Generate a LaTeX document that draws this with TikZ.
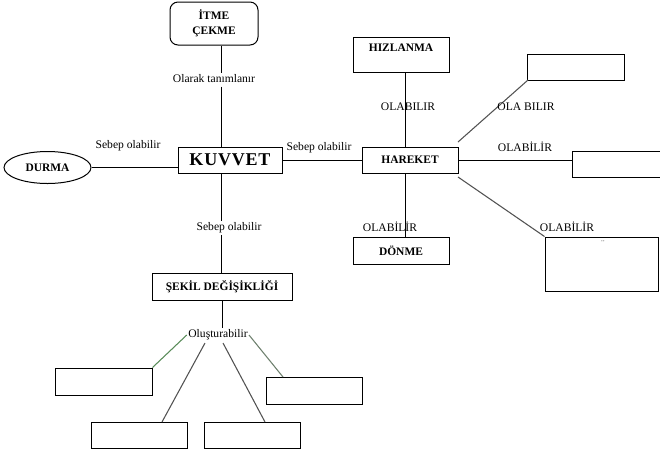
\documentclass[tikz,border=0pt]{standalone}
\usepackage{fontspec}
\setmainfont{Liberation Serif}
\usetikzlibrary{shapes.geometric}
\begin{document}
\begin{tikzpicture}[x=0.75pt,y=-0.75pt,
  box/.style={draw,line width=0.75pt,inner sep=0pt,font=\fontsize{8.6}{10}\selectfont\bfseries},
  lbl/.style={inner sep=1pt,font=\fontsize{8.7}{10}\selectfont},
  ln/.style={line width=0.75pt},
  dg/.style={line width=0.8pt,draw=black!68},
  gr/.style={line width=0.8pt,draw={rgb,255:red,90;green,140;blue,90}},
  gg/.style={line width=0.8pt,draw={rgb,255:red,110;green,128;blue,110}}]
\useasboundingbox (0,0) rectangle (660,455);
% boxes
\node[box,rounded corners=6pt,minimum width=88*0.75pt,minimum height=43*0.75pt,align=center] (itme) at (214,23.5) {İTME\\[1pt]ÇEKME};
\node[box,minimum width=104*0.75pt,minimum height=26*0.75pt,font=\fontsize{13.5}{15}\selectfont\bfseries] (kuvvet) at (230,160) {K\kern0.6pt U\kern0.6pt V\kern0.6pt V\kern0.6pt E\kern0.6pt T};
\node[box,ellipse,minimum width=87*0.75pt,minimum height=32*0.75pt] (durma) at (47.5,167.5) {DURMA};
\node[box,minimum width=96*0.75pt,minimum height=26*0.75pt] (hareket) at (410,160) {HAREKET};
\node[box,minimum width=96*0.75pt,minimum height=35*0.75pt] (hizlanma) at (401,54.5) {};
\node[inner sep=0pt,font=\fontsize{8.6}{10}\selectfont\bfseries] (hiztext) at (401,48) {HIZLANMA};
\node[box,minimum width=96*0.75pt,minimum height=27*0.75pt] (donme) at (401,250.5) {DÖNME};
\node[box,minimum width=97*0.75pt,minimum height=26*0.75pt] (tr) at (575.5,67) {};
\node[box,minimum width=100*0.75pt,minimum height=26*0.75pt] (rb) at (622,164) {};
\node[box,minimum width=113*0.75pt,minimum height=54*0.75pt] (br) at (601.5,264) {};
\node[inner sep=0pt,font=\fontsize{8}{9}\selectfont,text=black!55] (dots) at (603,244) {¨};
\node[box,minimum width=140*0.75pt,minimum height=27*0.75pt] (sekil) at (222,286.5) {ŞEKİL DEĞİŞİKLİĞİ};
\node[box,minimum width=97*0.75pt,minimum height=27*0.75pt] (b1) at (103.5,381.5) {};
\node[box,minimum width=96*0.75pt,minimum height=26*0.75pt] (b2) at (139,435) {};
\node[box,minimum width=96*0.75pt,minimum height=26*0.75pt] (b3) at (252,435) {};
\node[box,minimum width=96*0.75pt,minimum height=27*0.75pt] (b4) at (314,390.5) {};
% labels
\node[lbl] (tanim) at (214,79) {Olarak tanımlanır};
\node[lbl] (sebep1) at (128,146) {Sebep olabilir};
\node[lbl] (sebep2) at (319,148) {Sebep olabilir};
\node[lbl] (sebep3) at (229,228) {Sebep olabilir};
\node[lbl] (olus) at (218,335) {Oluşturabilir};
% helper coordinates
\coordinate (vx) at (221,0);
\coordinate (hx) at (405,0);
\coordinate (h1) at (458,142);
\coordinate (h2) at (458,177);
\coordinate (tre) at (528,80);
\coordinate (o1) at (205,343);
\coordinate (o2) at (223,343);
\coordinate (o3) at (249,335);
\coordinate (b2t) at (162,422);
\coordinate (b3t) at (265,422);
\coordinate (b4t) at (283,377);
% connectors
\draw[ln] (itme.south -| vx) -- (tanim.north -| vx);
\draw[ln] (tanim.south -| vx) ++(0,2) -- (kuvvet.north -| vx);
\draw[ln] (kuvvet.south -| vx) -- (sebep3.north -| vx);
\draw[ln] (sebep3.south -| vx) -- (sekil.north -| vx);
\draw[ln] (durma.east) -- (durma.east -| kuvvet.west);
\draw[ln] (kuvvet.east) -- (hareket.west);
\draw[ln] (hizlanma.south -| hx) -- (hareket.north -| hx);
\draw[ln] (hareket.south -| hx) -- (donme.north -| hx);
\draw[dg] (tre) -- (h1);
\draw[ln] (hareket.east) -- (hareket.east -| rb.west);
\draw[dg] (h2) -- (br.north west);
\draw[ln] (sekil.south) -- (olus.north -| sekil.south);
\draw[gr] (b1.north east) -- (olus.west);
\draw[dg] (o1) -- (b2t);
\draw[dg] (o2) -- (b3t);
\draw[gg] (o3) -- (b4t);
% labels over lines
\node[lbl] (olab1) at (408,107) {OLABILIR};
\node[lbl] (olab2) at (526,107) {OLA BILIR};
\node[lbl] (olab3) at (525,147) {OLABİLİR};
\node[lbl] (olab4) at (390,227) {OLABİLİR};
\node[lbl] (olab5) at (567,227) {OLABİLİR};
\end{tikzpicture}
\end{document}
